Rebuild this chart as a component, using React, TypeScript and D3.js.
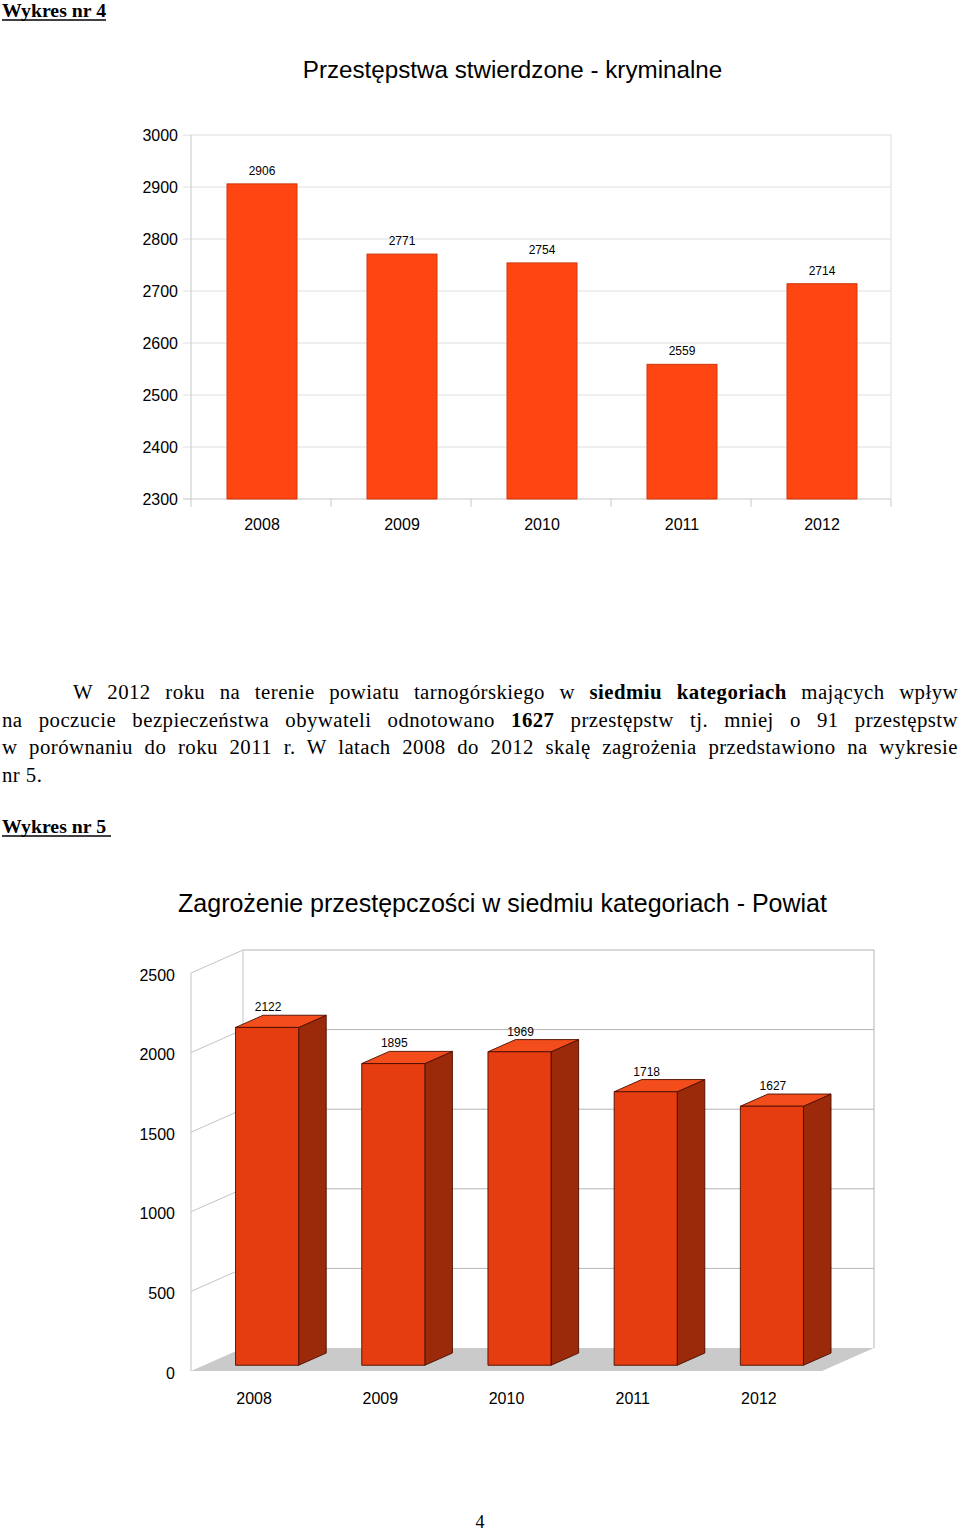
import React, { useEffect, useRef } from 'react';
import * as d3 from 'd3';

const years = ['2008', '2009', '2010', '2011', '2012'];
const crimes = [2906, 2771, 2754, 2559, 2714];
const threats = [2122, 1895, 1969, 1718, 1627];
const ticks1 = [2300, 2400, 2500, 2600, 2700, 2800, 2900, 3000];
const ticks2 = [0, 500, 1000, 1500, 2000, 2500];

const title1 = 'Przestępstwa stwierdzone - kryminalne';
const title2 = 'Zagrożenie przestępczości w siedmiu kategoriach - Powiat';

type Seg = { t: string; b?: boolean };
const paraLines: { x: number; w: number; segs: Seg[]; justify: boolean }[] = [
  { x: 73, w: 885, justify: true, segs: [{ t: 'W 2012 roku na terenie powiatu tarnogórskiego w ' }, { t: 'siedmiu kategoriach', b: true }, { t: ' mających wpływ' }] },
  { x: 2, w: 956, justify: true, segs: [{ t: 'na poczucie bezpieczeństwa obywateli odnotowano ' }, { t: '1627', b: true }, { t: ' przestępstw tj. mniej o 91 przestępstw' }] },
  { x: 2, w: 956, justify: true, segs: [{ t: 'w porównaniu do roku 2011 r. W latach 2008 do 2012 skalę zagrożenia przedstawiono na wykresie' }] },
  { x: 2, w: 0, justify: false, segs: [{ t: 'nr 5.' }] },
];

const SANS = '"Liberation Sans", Arial, sans-serif';
const SERIF = '"Liberation Serif", "Times New Roman", serif';

export default function App() {
  const paraRef = useRef<SVGGElement>(null);

  useEffect(() => {
    const g = paraRef.current;
    if (!g) return;
    g.querySelectorAll('text[data-w]').forEach((node) => {
      const t = node as SVGTextElement;
      t.style.wordSpacing = '0px';
      const w = t.getComputedTextLength();
      const target = +(t.getAttribute('data-w') || 0);
      const spaces = ((t.textContent || '').match(/ /g) || []).length;
      if (spaces > 0) t.style.wordSpacing = (target - w) / spaces + 'px';
    });
  }, []);

  // Chart 1
  const x1 = d3.scaleBand<string>().domain(years).range([192, 892]).paddingInner(0.5).paddingOuter(0.25);
  const y1 = d3.scaleLinear().domain([2300, 3000]).range([499, 135]);
  const step1 = x1.step();
  const boundaries1 = d3.range(years.length + 1).map((i) => 191 + i * step1);

  // Chart 2 (pseudo 3D)
  const DX = 52, DY = -23;
  const x2 = d3.scaleBand<string>().domain(years).range([191, 822]).paddingInner(0.5).paddingOuter(0.25);
  const y2 = d3.scaleLinear().domain([0, 2500]).range([1371, 973]);
  const d0 = 0.25, d1 = 0.78;
  const floor = `M191,1371 L822,1371 L${822 + DX},${1371 + DY} L${191 + DX},${1371 + DY} Z`;

  return (
    <svg width={960} height={1531} style={{ position: 'absolute', left: 0, top: 0, background: '#fff' }}>
      <rect x={0} y={0} width={960} height={1531} fill="#fff" />
      {/* Header 1 */}
      <text x={2} y={17} fontFamily={SERIF} fontWeight="bold" fontSize={19.8}>Wykres nr 4</text>
      <line x1={2} x2={106} y1={20} y2={20} stroke="#000" strokeWidth={1.3} />

      {/* Chart 1 */}
      <text x={512.5} y={78} textAnchor="middle" fontFamily={SANS} fontSize={24.2}>{title1}</text>
      {ticks1.map((t) => (
        <g key={t}>
          <line x1={183} x2={891} y1={y1(t)} y2={y1(t)} stroke={t === 2300 ? '#c8c8c8' : '#dedede'} />
          <text x={178} y={y1(t)} dy="0.35em" textAnchor="end" fontFamily={SANS} fontSize={16}>{t}</text>
        </g>
      ))}
      <line x1={191} x2={191} y1={135} y2={499} stroke="#c8c8c8" />
      <line x1={891} x2={891} y1={135} y2={499} stroke="#dedede" />
      {boundaries1.map((bx, i) => (
        <line key={i} x1={bx} x2={bx} y1={499} y2={507} stroke="#c8c8c8" />
      ))}
      {years.map((yr, i) => (
        <g key={yr}>
          <rect x={x1(yr)!} y={y1(crimes[i])} width={x1.bandwidth()} height={y1(2300) - y1(crimes[i])}
            fill="#ff4511" stroke="#d0380c" strokeWidth={1} />
          <text x={x1(yr)! + x1.bandwidth() / 2} y={y1(crimes[i]) - 9} textAnchor="middle" fontFamily={SANS} fontSize={12}>{crimes[i]}</text>
          <text x={x1(yr)! + x1.bandwidth() / 2} y={530} textAnchor="middle" fontFamily={SANS} fontSize={16}>{yr}</text>
        </g>
      ))}

      {/* Paragraph */}
      <g ref={paraRef} fontFamily={SERIF} fontSize={20.8} letterSpacing={0.45}>
        {paraLines.map((ln, i) => (
          <text key={i} x={ln.x} y={699 + i * 27.6} {...(ln.justify ? { 'data-w': ln.w } : {})}>
            {ln.segs.map((s, j) => (
              <tspan key={j} fontWeight={s.b ? 'bold' : 'normal'}>{s.t}</tspan>
            ))}
          </text>
        ))}
      </g>

      {/* Header 2 */}
      <text x={2} y={833} fontFamily={SERIF} fontWeight="bold" fontSize={19.8}>Wykres nr 5</text>
      <line x1={2} x2={111} y1={836} y2={836} stroke="#000" strokeWidth={1.3} />

      {/* Chart 2 */}
      <text x={502.5} y={912} textAnchor="middle" fontFamily={SANS} fontSize={25}>{title2}</text>
      <path d={floor} fill="#cacaca" />
      {ticks2.filter((t) => t > 0).map((t) => (
        <g key={t}>
          <line x1={191} y1={y2(t)} x2={191 + DX} y2={y2(t) + DY} stroke="#c4c4c4" />
          <line x1={191 + DX} y1={y2(t) + DY} x2={822 + DX} y2={y2(t) + DY} stroke="#b4b4b4" />
        </g>
      ))}
      <line x1={191} x2={191} y1={y2(2500)} y2={1371} stroke="#c4c4c4" />
      <line x1={191 + DX} x2={191 + DX} y1={y2(2500) + DY} y2={1371 + DY} stroke="#c4c4c4" />
      <line x1={822 + DX} x2={822 + DX} y1={y2(2500) + DY} y2={1371 + DY} stroke="#b4b4b4" />
      {ticks2.map((t) => (
        <text key={t} x={175} y={y2(t) + 2} dy="0.35em" textAnchor="end" fontFamily={SANS} fontSize={16}>{t}</text>
      ))}
      {years.map((yr, i) => {
        const v = threats[i];
        const fx = x2(yr)! + d0 * DX;
        const fy = d0 * DY;
        const w = x2.bandwidth();
        const bx = (d1 - d0) * DX;
        const by = (d1 - d0) * DY;
        const top = y2(v) + fy;
        const bot = y2(0) + fy;
        return (
          <g key={yr} stroke="#4a0c00" strokeWidth={0.9} strokeLinejoin="round">
            <path d={`M${fx + w},${top} L${fx + w + bx},${top + by} L${fx + w + bx},${bot + by} L${fx + w},${bot} Z`} fill="#9a2a0a" />
            <path d={`M${fx},${top} L${fx + bx},${top + by} L${fx + w + bx},${top + by} L${fx + w},${top} Z`} fill="#f24d1a" />
            <rect x={fx} y={top} width={w} height={bot - top} fill="#e53d10" />
            <text x={fx + w / 2 + 1} y={top + by - 4} textAnchor="middle" fontFamily={SANS} fontSize={12} stroke="none" fill="#000">{v}</text>
            <text x={x2(yr)! + w / 2} y={1404} textAnchor="middle" fontFamily={SANS} fontSize={16} stroke="none" fill="#000">{yr}</text>
          </g>
        );
      })}

      {/* Page number */}
      <text x={480} y={1528} textAnchor="middle" fontFamily={SERIF} fontSize={18}>4</text>
    </svg>
  );
}
